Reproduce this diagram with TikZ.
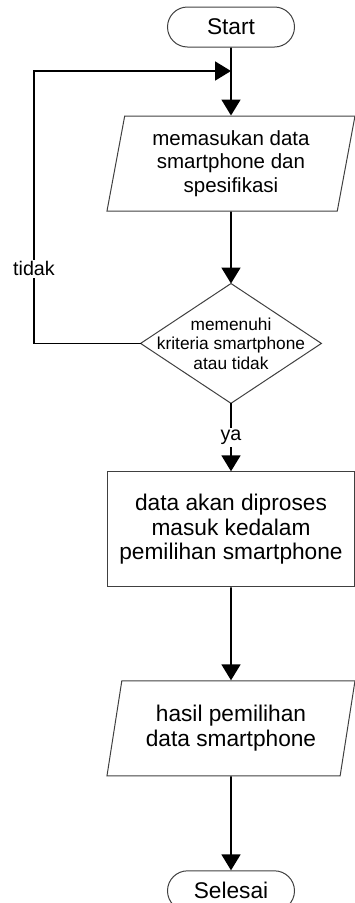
\documentclass[tikz,border=0pt]{standalone}
\usepackage{fontspec}
\setmainfont{Liberation Sans}
\usetikzlibrary{shapes.geometric,arrows.meta,positioning}

\begin{document}
\begin{tikzpicture}[x=1pt,y=1pt,node distance=68pt,>={Triangle[length=16pt,width=19pt]},line width=1.8pt]
\tikzstyle{every node}=[font=\fontsize{22.7}{24.5}\selectfont]
\tikzstyle{terminal}=[draw,black!75,text=black,line width=1pt,rectangle,rounded corners=20pt,minimum width=127pt,minimum height=40pt,inner sep=0pt]
\tikzstyle{io}=[draw,black!75,text=black,line width=1pt,trapezium,trapezium left angle=75,trapezium right angle=105,trapezium stretches body,minimum width=248pt,minimum height=95pt,inner sep=0pt,align=center]
\tikzstyle{process}=[draw,black!75,text=black,line width=1pt,rectangle,minimum width=247pt,minimum height=115pt,inner sep=0pt,align=center]
\tikzstyle{decision}=[rectangle,minimum width=179pt,minimum height=118pt,inner sep=0pt,align=center,font=\fontsize{17.3}{19.5}\selectfont]
\tikzstyle{lbl}=[fill=white,inner sep=2pt,font=\fontsize{19.7}{22}\selectfont]
\useasboundingbox (0,0) rectangle (355,-903);
\node[terminal] (start) at (231,-27) {Start};
\node[io,below=68pt of start,font=\fontsize{20.5}{23.5}\selectfont] (input) {memasukan data\\smartphone dan\\spesifikasi};
\node[decision,below=72pt of input] (cek) {memenuhi\\kriteria smartphone\\atau tidak};
\draw[black!75,line width=1pt] (cek.north) -- (cek.east) -- (cek.south) -- (cek.west) -- cycle;
\node[process,below=68pt of cek] (proses) {data akan diproses\\masuk kedalam\\pemilihan smartphone};
\node[io,trapezium left angle=72,trapezium right angle=108,below=93pt of proses] (hasil) {hasil pemilihan\\data smartphone};
\node[terminal,below=94pt of hasil] (selesai) {Selesai};
\coordinate (m) at (231,-71);
\coordinate (kiri) at (34,-71);
\draw[->] (start) -- (input);
\draw[->] (input) -- (cek);
\draw[->] (cek.west) -| node[lbl,pos=0.637] {tidak} (kiri) -- (m);
\draw[->] (cek.south) -- node[lbl] {ya} (proses.north);
\draw[->] (proses) -- (hasil);
\draw[->] (hasil) -- (selesai);
\end{tikzpicture}
\end{document}
